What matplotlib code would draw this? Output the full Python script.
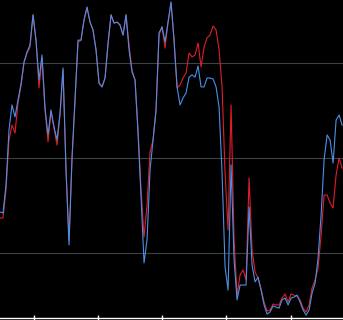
import matplotlib
matplotlib.use("Agg")
import matplotlib.pyplot as plt
import numpy as np

# Stochastic-style oscillator values (0-100), one value per bar
blue_k = [32.9, 32.6, 41.5, 58.9, 66.8, 63.0, 68.4, 73.4, 80.4, 83.5,
          85.8, 95.3, 87.3, 74.7, 82.6, 65.8, 57.3, 65.2, 59.8, 55.7,
          64.2, 78.5, 46.2, 22.5, 50.3, 68.4, 87.3, 87.3, 93.7, 97.8,
          93.0, 90.5, 84.2, 73.7, 72.5, 75.3, 86.4, 95.3, 92.7, 93.0,
          92.1, 88.9, 95.3, 84.2, 77.2, 74.7, 57.9, 37.7, 16.8, 24.1,
          46.2, 55.7, 65.2, 89.6, 91.5, 86.7, 93.0, 99.4, 87.3, 72.5,
          66.8, 69.0, 70.6, 75.6, 76.3, 75.6, 79.1, 72.5, 72.5, 75.3,
          75.3, 75.0, 72.5, 66.1, 45.3, 15.5, 8.2, 47.8, 17.7, 5.1,
          9.8, 9.8, 9.8, 34.5, 16.1, 10.8, 12.3, 8.2, 3.5, 0.6,
          1.3, 3.2, 2.8, 2.5, 5.1, 5.7, 3.5, 5.7, 6.0, 6.6,
          4.4, 1.9, 0.3, 1.9, 7.3, 10.4, 18.4, 32.0, 49.4, 57.3,
          55.7, 48.4, 62.0, 63.6, 60.4]

red_d = [31.0, 31.0, 39.9, 55.7, 60.4, 57.9, 67.4, 72.8, 80.1, 83.2,
         85.1, 95.3, 87.3, 72.2, 81.6, 65.2, 55.1, 64.6, 59.5, 54.1,
         63.6, 77.8, 46.2, 24.1, 49.4, 68.4, 86.7, 87.3, 93.7, 97.5,
         93.0, 90.5, 84.2, 73.7, 72.5, 75.3, 85.8, 95.3, 92.7, 93.0,
         92.1, 88.9, 95.3, 85.8, 77.8, 74.7, 58.9, 39.9, 25.0, 35.1,
         51.9, 55.7, 65.2, 88.9, 91.5, 84.8, 93.0, 99.1, 87.3, 72.2,
         73.1, 75.3, 76.9, 83.2, 82.0, 82.6, 86.4, 78.8, 85.1, 88.0,
         88.9, 91.8, 90.5, 84.2, 72.5, 45.3, 27.2, 66.8, 24.1, 6.6,
         13.0, 14.6, 11.4, 43.7, 20.9, 13.9, 12.0, 8.5, 4.4, 1.6,
         1.9, 3.8, 3.5, 3.5, 5.7, 7.0, 4.4, 7.0, 6.6, 6.3,
         5.1, 2.5, 1.3, 3.5, 8.9, 11.4, 15.2, 25.6, 38.3, 38.3,
         35.8, 34.2, 44.6, 50.0, 46.8]

grid_levels = [20, 50, 80]
tick_positions = [11.3, 32.7, 54.0, 75.3, 97.0]
tick_labels = ["", "", "", "", ""]

x = np.arange(len(blue_k))

fig = plt.figure(figsize=(3.43, 3.20), dpi=100)
fig.patch.set_facecolor("black")
ax = fig.add_axes([0, 2 / 320, 1, 318 / 320])
ax.set_facecolor("black")

for g in grid_levels:
    ax.axhline(g, color="#3a4444", lw=0.8, zorder=1)

ax.plot(x, red_d, color="#e01e28", lw=0.8, zorder=2)
ax.plot(x, blue_k, color="#4a90e8", lw=0.8, zorder=3)

ax.set_xlim(0, 114.3)
ax.set_ylim(-0.63, 100.0)

for side in ["top", "left", "right"]:
    ax.spines[side].set_visible(False)
ax.spines["bottom"].set_color("white")
ax.spines["bottom"].set_linewidth(1.0)
ax.set_yticks([])
ax.set_xticks(tick_positions)
ax.set_xticklabels(tick_labels)
ax.tick_params(axis="x", colors="white", direction="inout", length=4, width=1)

fig.savefig("out.png", dpi=100, facecolor="black")
